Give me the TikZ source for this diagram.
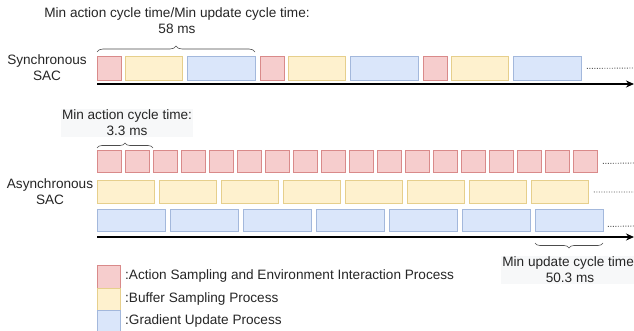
\documentclass[tikz,border=0pt]{standalone}
\usepackage{fontspec}
\setmainfont{Liberation Sans}
\usetikzlibrary{arrows.meta,decorations.pathreplacing}

\definecolor{redfill}{HTML}{F6CDCD}
\definecolor{reddraw}{HTML}{D98A8A}
\definecolor{yelfill}{HTML}{FEF1CE}
\definecolor{yeldraw}{HTML}{E6CF8C}
\definecolor{bluefill}{HTML}{DAE6FA}
\definecolor{bluedraw}{HTML}{A3B8DC}
\definecolor{notebg}{HTML}{F7F8F9}

\tikzset{
  procbox/.style={draw, line width=0.9pt, inner sep=0pt, anchor=north west},
  redbox/.style={procbox, fill=redfill, draw=reddraw},
  yellowbox/.style={procbox, fill=yelfill, draw=yeldraw},
  bluebox/.style={procbox, fill=bluefill, draw=bluedraw},
  timeaxis/.style={line width=1.6pt, -{Stealth[length=8pt,width=7pt]}},
  dots/.style={draw=black!65, line width=0.9pt, dash pattern=on 0.9pt off 1.6pt},
  curly/.style={draw=black!70, line width=0.6pt, decorate},
  txt/.style={font=\fontsize{13.6}{16}\selectfont, text=black!85, inner sep=1pt, align=center},
  note/.style={txt, fill=notebg},
}

\begin{document}
\begin{tikzpicture}[x=1pt,y=-1pt]
\useasboundingbox[fill=white] (0,0) rectangle (634,331);

% ---------- synchronous SAC ----------
\node[txt] (synclbl) at (47,68) {Synchronous\\SAC};
\foreach \x/\w/\s [count=\i] in {97/24/redbox,125/57/yellowbox,187/68/bluebox,
                                260/24/redbox,288/57/yellowbox,350/68/bluebox,
                                423/24/redbox,451/57/yellowbox,513/68/bluebox}
  \node[\s, minimum width=\w pt, minimum height=24pt] (s\i) at (\x,56) {};
\coordinate (sdotend) at (634,68);
\draw[dots] ([xshift=5pt]s9.east) -- (sdotend);
\coordinate (saxs) at (97,84);
\coordinate (saxe) at (634,84);
\draw[timeaxis] (saxs) -- (saxe);
\coordinate (sbl) at (97,52);
\coordinate (sbr) at (255,52);
\draw[curly, decoration={brace, amplitude=6pt}] (sbl) -- (sbr);
\node[txt] (synctime) at (177,21) {Min action cycle time/Min update cycle time:\\58 ms};

% ---------- asynchronous SAC ----------
\node[txt] (asynclbl) at (50,192) {Asynchronous\\SAC};
\foreach \i in {0,...,17}
  \node[redbox, minimum width=24pt, minimum height=22pt] (ar\i) at (97+28*\i,150) {};
\foreach \i in {0,...,7}
  \node[yellowbox, minimum width=57pt, minimum height=23pt] (ay\i) at (97+62*\i,180) {};
\foreach \i in {0,...,6}
  \node[bluebox, minimum width=68pt, minimum height=22pt] (ab\i) at (97+73*\i,209) {};
\coordinate (rdotend) at (634,163);
\coordinate (ydotend) at (634,192);
\coordinate (bdotend) at (634,226);
\draw[dots] ([xshift=5pt,yshift=-2pt]ar17.east) -- (rdotend);
\draw[dots] ([xshift=5pt]ay7.east) -- (ydotend);
\draw[dots] ([xshift=4pt,yshift=-6pt]ab6.east) -- (bdotend);
\coordinate (aaxs) at (97,237);
\coordinate (aaxe) at (634,237);
\draw[timeaxis] (aaxs) -- (aaxe);

% minimum action cycle
\coordinate (abl) at (97,148);
\coordinate (abr) at (153,148);
\draw[curly, decoration={brace, amplitude=5pt}] (abl) -- (abr);
\node[note] (acttime) at (127,123) {Min action cycle time:\\3.3 ms};

% minimum update cycle
\coordinate (ubr) at (603,243);
\coordinate (ubl) at (535,243);
\draw[curly, decoration={brace, amplitude=5pt}] (ubr) -- (ubl);
\node[note] (updtime) at (570,270) {Min update cycle time:\\50.3 ms};

% ---------- legend ----------
\node[redbox, minimum width=23pt, minimum height=22.5pt] (lgr) at (97,265) {};
\node[yellowbox, minimum width=23pt, minimum height=22.5pt] (lgy) at (97,287.5) {};
\node[bluebox, minimum width=23pt, minimum height=22.5pt] (lgb) at (97,310) {};
\node[txt, anchor=west] (lgrt) at (124,276) {:Action Sampling and Environment Interaction Process};
\node[txt, anchor=west] (lgyt) at (124,298.5) {:Buffer Sampling Process};
\node[txt, anchor=west] (lgbt) at (124,321) {:Gradient Update Process};
\end{tikzpicture}
\end{document}
